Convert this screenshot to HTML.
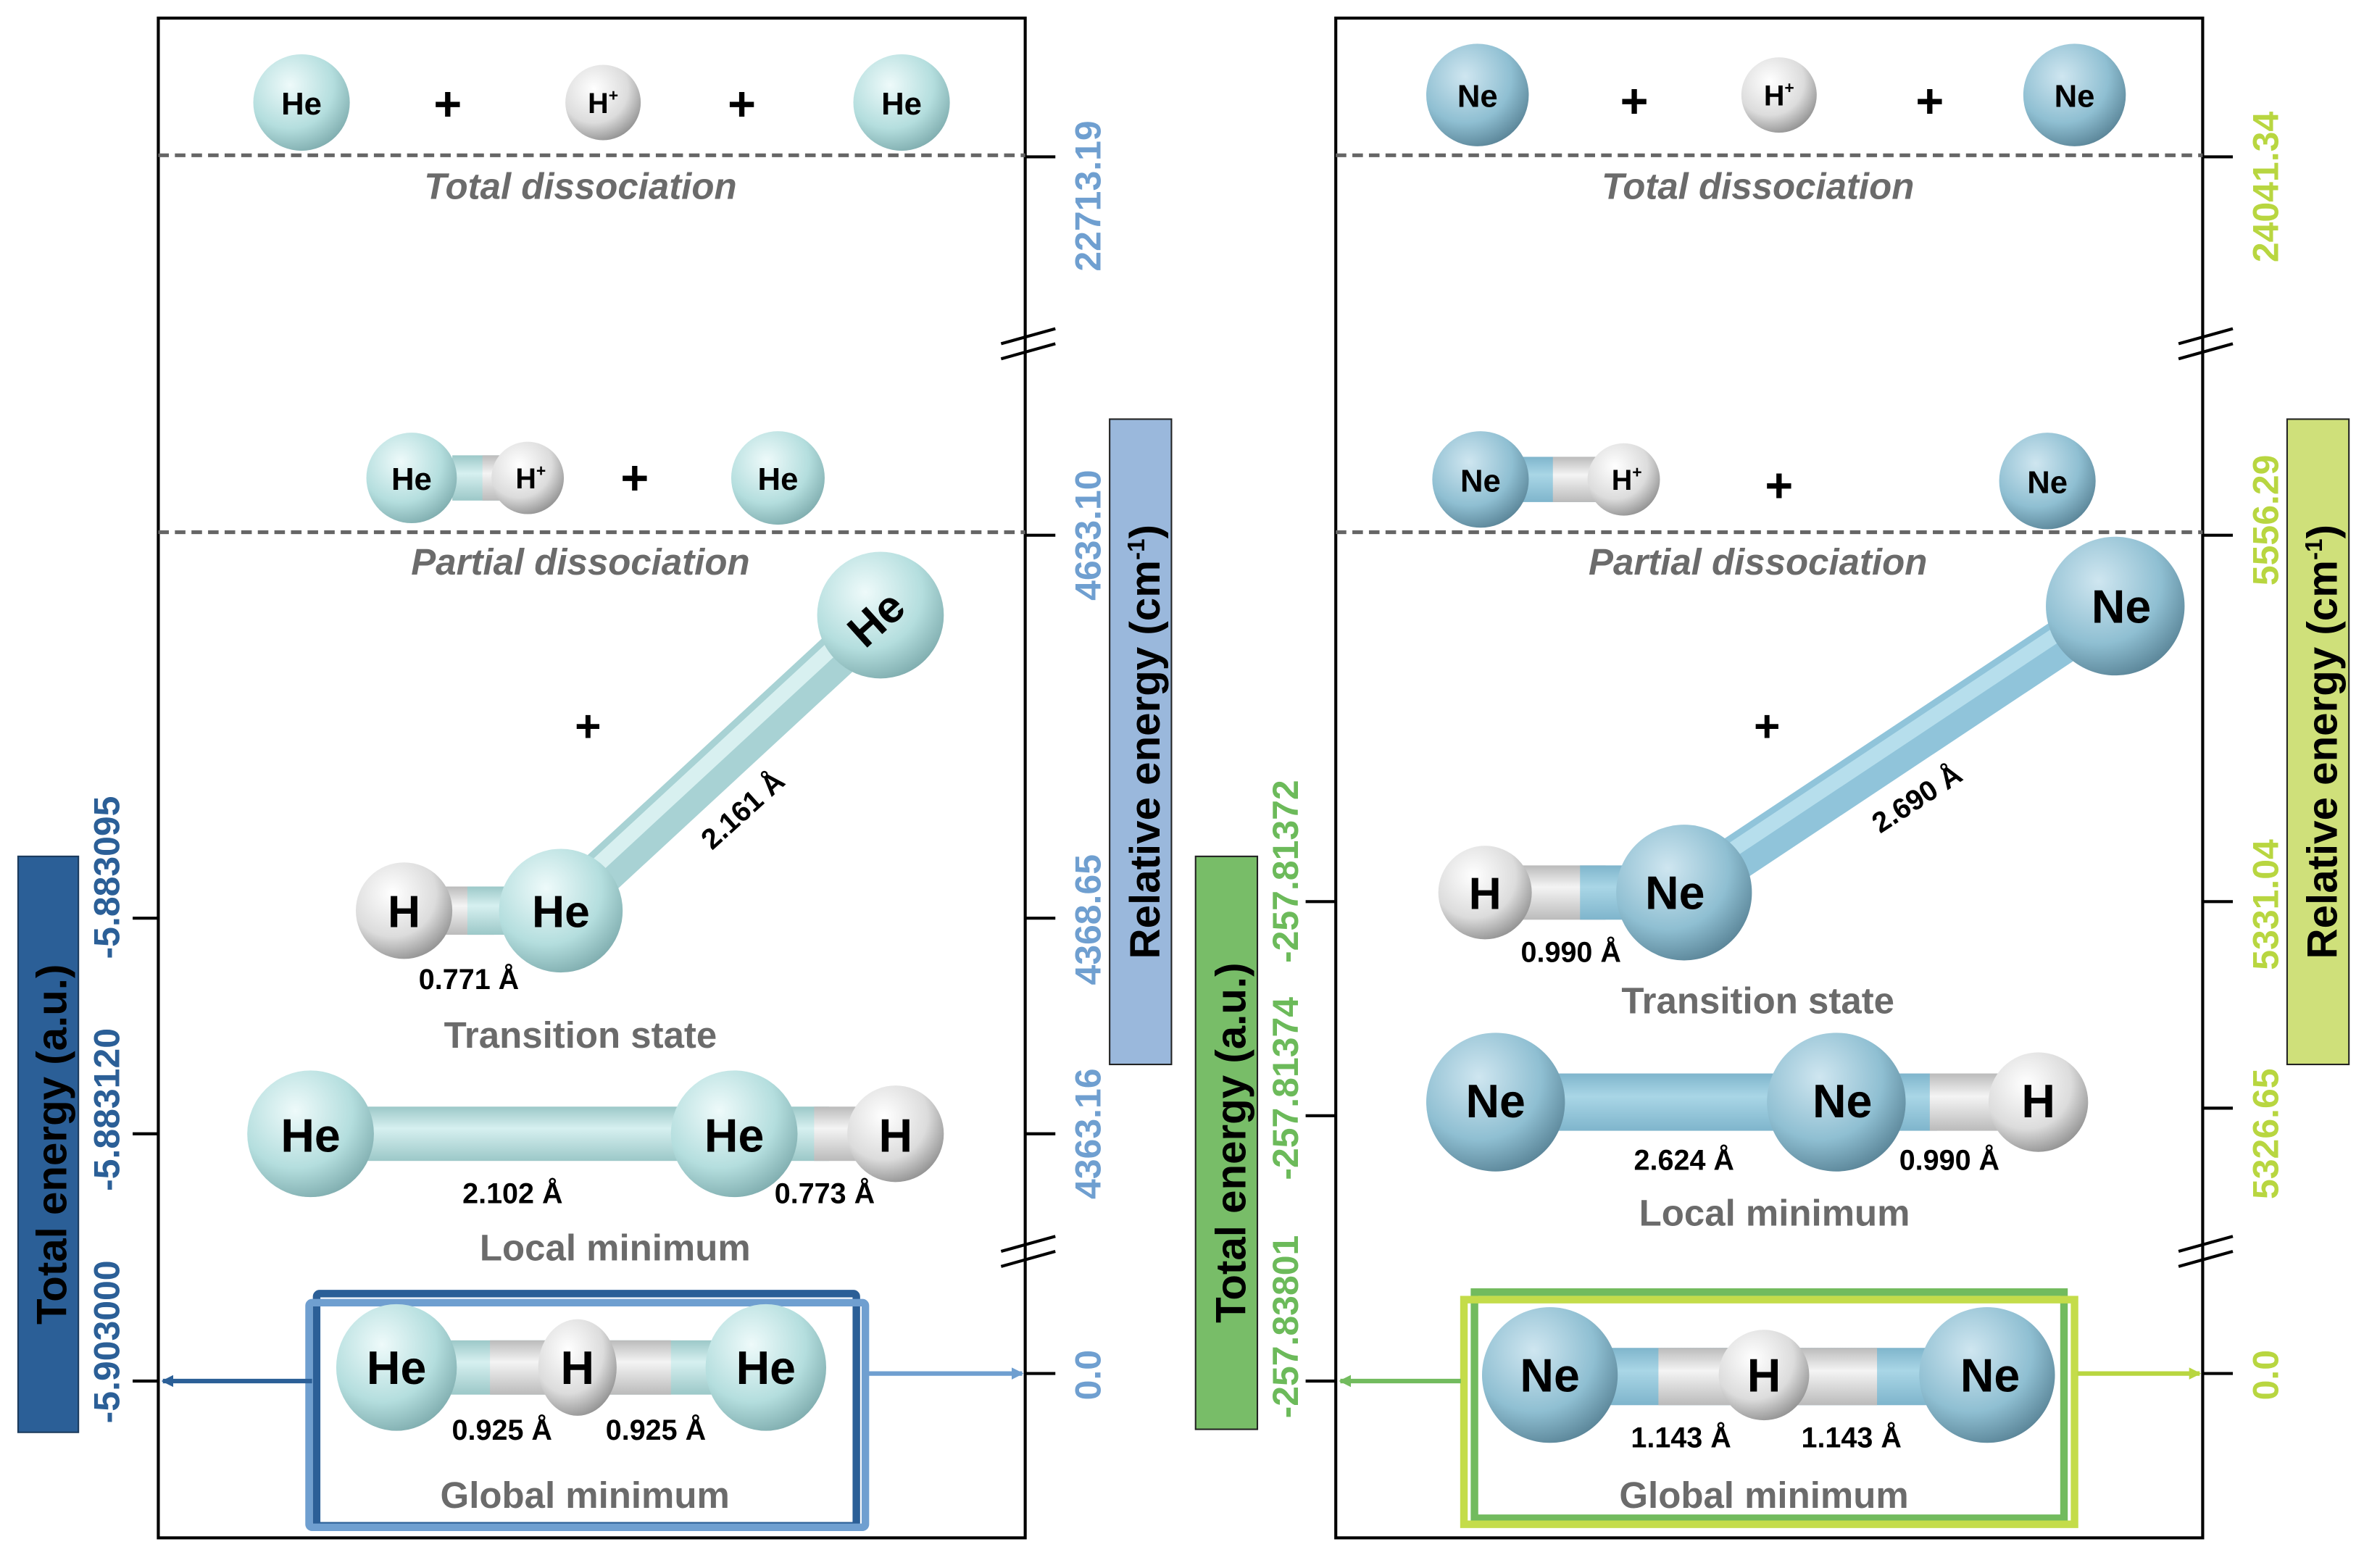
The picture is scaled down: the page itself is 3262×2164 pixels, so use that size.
<!DOCTYPE html>
<html><head><meta charset="utf-8">
<style>
html,body{margin:0;padding:0;background:#fff;}
svg{display:block;}
text{font-family:"Liberation Sans",sans-serif;}
</style></head>
<body>
<svg width="3262" height="2164" viewBox="0 0 1568 1040" preserveAspectRatio="none" xmlns="http://www.w3.org/2000/svg">
<defs>
<radialGradient id="he" cx="0.38" cy="0.32" r="0.75"><stop offset="0" stop-color="#eefafa"/><stop offset="0.6" stop-color="#b4dede"/><stop offset="1" stop-color="#7aa8aa"/></radialGradient>
<radialGradient id="ne" cx="0.38" cy="0.32" r="0.75"><stop offset="0" stop-color="#cfe6f0"/><stop offset="0.6" stop-color="#8fbfd2"/><stop offset="1" stop-color="#557f92"/></radialGradient>
<radialGradient id="hh" cx="0.38" cy="0.32" r="0.75"><stop offset="0" stop-color="#ffffff"/><stop offset="0.6" stop-color="#dcdcdc"/><stop offset="1" stop-color="#8a8a8a"/></radialGradient>
<linearGradient id="bhe" x1="0" y1="0" x2="0" y2="1"><stop offset="0" stop-color="#9cc8c8"/><stop offset="0.4" stop-color="#d6f0f0"/><stop offset="1" stop-color="#9cc8c8"/></linearGradient>
<linearGradient id="bne" x1="0" y1="0" x2="0" y2="1"><stop offset="0" stop-color="#7fb5cc"/><stop offset="0.4" stop-color="#a9d6e6"/><stop offset="1" stop-color="#7fb5cc"/></linearGradient>
<linearGradient id="bh" x1="0" y1="0" x2="0" y2="1"><stop offset="0" stop-color="#bbb"/><stop offset="0.4" stop-color="#f4f4f4"/><stop offset="1" stop-color="#bbb"/></linearGradient>
<marker id="a1" markerWidth="8" markerHeight="8" refX="7" refY="4" orient="auto" markerUnits="userSpaceOnUse"><path d="M0,0 L8,4 L0,8z" fill="#2b5f97"/></marker>
<marker id="a2" markerWidth="8" markerHeight="8" refX="7" refY="4" orient="auto" markerUnits="userSpaceOnUse"><path d="M0,0 L8,4 L0,8z" fill="#6f9fd0"/></marker>
<marker id="a3" markerWidth="8" markerHeight="8" refX="7" refY="4" orient="auto" markerUnits="userSpaceOnUse"><path d="M0,0 L8,4 L0,8z" fill="#72bb5e"/></marker>
<marker id="a4" markerWidth="8" markerHeight="8" refX="7" refY="4" orient="auto" markerUnits="userSpaceOnUse"><path d="M0,0 L8,4 L0,8z" fill="#b8d640"/></marker>
</defs>

<rect x="105" y="12" width="575" height="1008" fill="none" stroke="#000" stroke-width="2"/>
<rect x="886" y="12" width="575" height="1008" fill="none" stroke="#000" stroke-width="2"/>
<g stroke="#000" stroke-width="2">
<line x1="680" y1="104" x2="700" y2="104"/><line x1="680" y1="355" x2="700" y2="355"/><line x1="680" y1="609" x2="700" y2="609"/><line x1="680" y1="752" x2="700" y2="752"/><line x1="680" y1="911" x2="700" y2="911"/>
<line x1="88" y1="609" x2="105" y2="609"/><line x1="88" y1="752" x2="105" y2="752"/><line x1="88" y1="916" x2="105" y2="916"/>
<line x1="1461" y1="104" x2="1481" y2="104"/><line x1="1461" y1="355" x2="1481" y2="355"/><line x1="1461" y1="598" x2="1481" y2="598"/><line x1="1461" y1="735" x2="1481" y2="735"/><line x1="1461" y1="911" x2="1481" y2="911"/>
<line x1="866" y1="598" x2="886" y2="598"/><line x1="866" y1="740" x2="886" y2="740"/><line x1="866" y1="916" x2="886" y2="916"/>
<line x1="664" y1="228" x2="700" y2="218"/><line x1="664" y1="238" x2="700" y2="228"/>
<line x1="664" y1="830" x2="700" y2="820"/><line x1="664" y1="840" x2="700" y2="830"/>
<line x1="1445" y1="228" x2="1481" y2="218"/><line x1="1445" y1="238" x2="1481" y2="228"/>
<line x1="1445" y1="830" x2="1481" y2="820"/><line x1="1445" y1="840" x2="1481" y2="830"/>
</g>
<g stroke="#666" stroke-width="2.5" stroke-dasharray="7,4">
<line x1="105" y1="103" x2="680" y2="103"/><line x1="105" y1="353" x2="680" y2="353"/>
<line x1="886" y1="103" x2="1461" y2="103"/><line x1="886" y1="353" x2="1461" y2="353"/>
</g>
<g font-style="italic" font-weight="bold" font-size="24.5" fill="#6b6b6b" text-anchor="middle">
<text x="385" y="132">Total dissociation</text><text x="385" y="381">Partial dissociation</text>
<text x="1166" y="132">Total dissociation</text><text x="1166" y="381">Partial dissociation</text>
</g>
<g font-weight="bold" font-size="24.5" fill="#6b6b6b" text-anchor="middle">
<text x="385" y="695">Transition state</text><text x="408" y="836">Local minimum</text><text x="388" y="1000">Global minimum</text>
<text x="1166" y="672">Transition state</text><text x="1177" y="813">Local minimum</text><text x="1170" y="1000">Global minimum</text>
</g>

<rect x="12" y="568" width="40" height="382" fill="#2b5f97" stroke="#1a3a5c"/>
<text transform="translate(44,759) rotate(-90)" text-anchor="middle" font-size="28" font-weight="bold">Total energy (a.u.)</text>
<rect x="736" y="278" width="41" height="428" fill="#9ab8dc" stroke="#222"/>
<text transform="translate(769,492) rotate(-90)" text-anchor="middle" font-size="28" font-weight="bold">Relative energy (cm<tspan font-size="16" dy="-10">-1</tspan><tspan dy="10">)</tspan></text>
<rect x="793" y="568" width="41" height="380" fill="#78bd68" stroke="#222"/>
<text transform="translate(826,758) rotate(-90)" text-anchor="middle" font-size="28" font-weight="bold">Total energy (a.u.)</text>
<rect x="1517" y="278" width="41" height="428" fill="#cfe07a" stroke="#222"/>
<text transform="translate(1550,492) rotate(-90)" text-anchor="middle" font-size="28" font-weight="bold">Relative energy (cm<tspan font-size="16" dy="-10">-1</tspan><tspan dy="10">)</tspan></text>

<g font-size="24" font-weight="bold" text-anchor="middle">
<g fill="#2b5f97">
<text transform="translate(79,582) rotate(-90)">-5.883095</text>
<text transform="translate(79,736) rotate(-90)">-5.883120</text>
<text transform="translate(79,890) rotate(-90)">-5.903000</text>
</g>
<g fill="#6f9fd0">
<text transform="translate(730,130) rotate(-90)">22713.19</text>
<text transform="translate(730,355) rotate(-90)">4633.10</text>
<text transform="translate(730,610) rotate(-90)">4368.65</text>
<text transform="translate(730,752) rotate(-90)">4363.16</text>
<text transform="translate(730,912) rotate(-90)">0.0</text>
</g>
<g fill="#6cba5a">
<text transform="translate(861,578) rotate(-90)">-257.81372</text>
<text transform="translate(861,722) rotate(-90)">-257.81374</text>
<text transform="translate(861,880) rotate(-90)">-257.83801</text>
</g>
<g fill="#b8d640">
<text transform="translate(1511,124) rotate(-90)">24041.34</text>
<text transform="translate(1511,345) rotate(-90)">5556.29</text>
<text transform="translate(1511,600) rotate(-90)">5331.04</text>
<text transform="translate(1511,752) rotate(-90)">5326.65</text>
<text transform="translate(1511,912) rotate(-90)">0.0</text>
</g>
</g>

<rect x="210" y="858" width="358" height="154" fill="none" stroke="#2b5f97" stroke-width="5" rx="2"/>
<rect x="205" y="864" width="369" height="149" fill="none" stroke="#6f9fd0" stroke-width="5" rx="2"/>
<line x1="207" y1="916" x2="108" y2="916" stroke="#2b5f97" stroke-width="3" marker-end="url(#a1)"/>
<line x1="576" y1="911" x2="678" y2="911" stroke="#6f9fd0" stroke-width="3" marker-end="url(#a2)"/>
<rect x="978" y="857" width="391" height="150" fill="none" stroke="#72bb5e" stroke-width="5"/>
<rect x="971" y="862" width="405" height="149" fill="none" stroke="#c4dc4a" stroke-width="5"/>
<line x1="969" y1="916" x2="889" y2="916" stroke="#72bb5e" stroke-width="3" marker-end="url(#a3)"/>
<line x1="1378" y1="911" x2="1459" y2="911" stroke="#b8d640" stroke-width="3" marker-end="url(#a4)"/>

<g font-weight="bold" text-anchor="middle">
<circle cx="200" cy="68" r="32" fill="url(#he)"/><text x="200" y="76" font-size="21">He</text>
<text x="297" y="80" font-size="32">+</text>
<circle cx="400" cy="68" r="25" fill="url(#hh)"/><text x="400" y="75" font-size="19">H<tspan font-size="11" dy="-8">+</tspan></text>
<text x="492" y="80" font-size="32">+</text>
<circle cx="598" cy="68" r="32" fill="url(#he)"/><text x="598" y="76" font-size="21">He</text>

<rect x="300" y="302" width="40" height="30" fill="url(#bhe)"/><rect x="320" y="302" width="20" height="30" fill="url(#bh)"/>
<circle cx="273" cy="317" r="30" fill="url(#he)"/><text x="273" y="325" font-size="21">He</text>
<circle cx="350" cy="317" r="24" fill="url(#hh)"/><text x="352" y="324" font-size="19">H<tspan font-size="11" dy="-8">+</tspan></text>
<text x="421" y="328" font-size="32">+</text>
<circle cx="516" cy="317" r="31" fill="url(#he)"/><text x="516" y="325" font-size="21">He</text>

<text x="390" y="492" font-size="30">+</text>
<line x1="372" y1="604" x2="584" y2="408" stroke="#a8d2d4" stroke-width="30"/>
<line x1="372" y1="604" x2="584" y2="408" stroke="#d8f0f0" stroke-width="10" transform="translate(-4,-4)"/>
<rect x="268" y="588" width="60" height="32" fill="url(#bh)"/><rect x="310" y="588" width="40" height="32" fill="url(#bhe)"/>
<circle cx="268" cy="604" r="32" fill="url(#hh)"/><text x="268" y="615" font-size="30">H</text>
<circle cx="372" cy="604" r="41" fill="url(#he)"/><text x="372" y="615" font-size="30">He</text>
<circle cx="584" cy="408" r="42" fill="url(#he)"/><text transform="translate(588,418) rotate(-42)" font-size="30">He</text>
<text transform="translate(497,542) rotate(-42)" font-size="19">2.161 Å</text>
<text x="311" y="656" font-size="19">0.771 Å</text>

<rect x="205" y="734" width="300" height="36" fill="url(#bhe)"/>
<rect x="520" y="734" width="30" height="36" fill="url(#bhe)"/><rect x="540" y="734" width="50" height="36" fill="url(#bh)"/>
<circle cx="206" cy="752" r="42" fill="url(#he)"/><text x="206" y="764" font-size="31">He</text>
<circle cx="487" cy="752" r="42" fill="url(#he)"/><text x="487" y="764" font-size="31">He</text>
<circle cx="594" cy="752" r="32" fill="url(#hh)"/><text x="594" y="764" font-size="31">H</text>
<text x="340" y="798" font-size="19">2.102 Å</text><text x="547" y="798" font-size="19">0.773 Å</text>

<rect x="265" y="889" width="240" height="36" fill="url(#bhe)"/>
<rect x="325" y="889" width="120" height="36" fill="url(#bh)"/>
<ellipse cx="263" cy="907" rx="40" ry="42" fill="url(#he)"/><text x="263" y="918" font-size="31">He</text>
<ellipse cx="383" cy="907" rx="26" ry="32" fill="url(#hh)"/><text x="383" y="918" font-size="31">H</text>
<ellipse cx="508" cy="907" rx="40" ry="42" fill="url(#he)"/><text x="508" y="918" font-size="31">He</text>
<text x="333" y="955" font-size="19">0.925 Å</text><text x="435" y="955" font-size="19">0.925 Å</text>
</g>

<g font-weight="bold" text-anchor="middle">
<circle cx="980" cy="63" r="34" fill="url(#ne)"/><text x="980" y="71" font-size="21">Ne</text>
<text x="1084" y="78" font-size="32">+</text>
<circle cx="1180" cy="63" r="25" fill="url(#hh)"/><text x="1180" y="70" font-size="19">H<tspan font-size="11" dy="-8">+</tspan></text>
<text x="1280" y="78" font-size="32">+</text>
<circle cx="1376" cy="63" r="34" fill="url(#ne)"/><text x="1376" y="71" font-size="21">Ne</text>

<rect x="1005" y="303" width="70" height="30" fill="url(#bne)"/><rect x="1030" y="303" width="45" height="30" fill="url(#bh)"/>
<circle cx="982" cy="318" r="32" fill="url(#ne)"/><text x="982" y="326" font-size="21">Ne</text>
<circle cx="1077" cy="318" r="24" fill="url(#hh)"/><text x="1079" y="325" font-size="19">H<tspan font-size="11" dy="-8">+</tspan></text>
<text x="1180" y="333" font-size="32">+</text>
<circle cx="1358" cy="319" r="32" fill="url(#ne)"/><text x="1358" y="327" font-size="21">Ne</text>

<text x="1172" y="492" font-size="30">+</text>
<line x1="1117" y1="592" x2="1403" y2="402" stroke="#90c4da" stroke-width="30"/>
<line x1="1117" y1="592" x2="1403" y2="402" stroke="#b6deec" stroke-width="10" transform="translate(-3,-5)"/>
<rect x="985" y="574" width="80" height="36" fill="url(#bh)"/><rect x="1048" y="574" width="40" height="36" fill="url(#bne)"/>
<circle cx="985" cy="592" r="31" fill="url(#hh)"/><text x="985" y="603" font-size="30">H</text>
<circle cx="1117" cy="592" r="45" fill="url(#ne)"/><text x="1111" y="603" font-size="31">Ne</text>
<circle cx="1403" cy="402" r="46" fill="url(#ne)"/><text x="1407" y="413" font-size="31">Ne</text>
<text transform="translate(1275,535) rotate(-33)" font-size="19">2.690 Å</text>
<text x="1042" y="638" font-size="19">0.990 Å</text>

<rect x="990" y="712" width="250" height="38" fill="url(#bne)"/>
<rect x="1255" y="712" width="30" height="38" fill="url(#bne)"/><rect x="1280" y="712" width="70" height="38" fill="url(#bh)"/>
<circle cx="992" cy="731" r="46" fill="url(#ne)"/><text x="992" y="741" font-size="31">Ne</text>
<circle cx="1218" cy="731" r="46" fill="url(#ne)"/><text x="1222" y="741" font-size="31">Ne</text>
<circle cx="1352" cy="731" r="33" fill="url(#hh)"/><text x="1352" y="741" font-size="31">H</text>
<text x="1117" y="776" font-size="19">2.624 Å</text><text x="1293" y="776" font-size="19">0.990 Å</text>

<rect x="1030" y="894" width="260" height="38" fill="url(#bne)"/>
<rect x="1100" y="894" width="145" height="38" fill="url(#bh)"/>
<circle cx="1028" cy="912" r="45" fill="url(#ne)"/><text x="1028" y="923" font-size="31">Ne</text>
<circle cx="1170" cy="912" r="30" fill="url(#hh)"/><text x="1170" y="923" font-size="31">H</text>
<circle cx="1318" cy="912" r="45" fill="url(#ne)"/><text x="1320" y="923" font-size="31">Ne</text>
<text x="1115" y="960" font-size="19">1.143 Å</text><text x="1228" y="960" font-size="19">1.143 Å</text>
</g>
</svg>
</body></html>
